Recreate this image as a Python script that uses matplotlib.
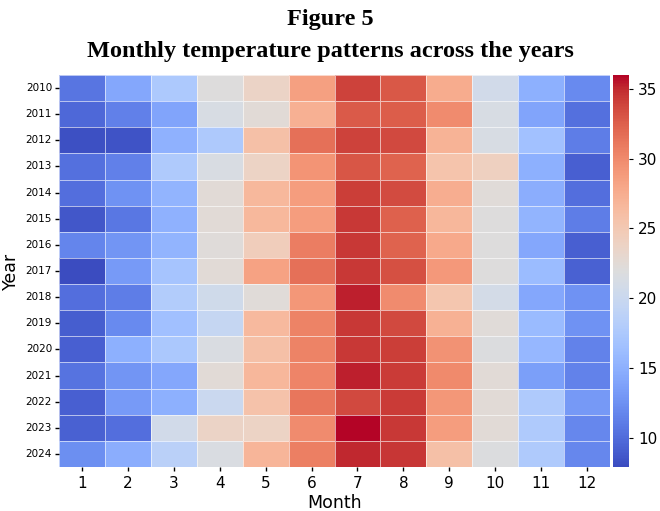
import numpy as np
import matplotlib
matplotlib.use("Agg")
import matplotlib.pyplot as plt
import seaborn as sns

years = list(range(2010, 2025))
months = list(range(1, 13))

t2010 = [10.6, 14.2, 17.5, 22.0, 23.6, 28.5, 34.0, 32.9, 27.6, 20.7, 15.0, 12.0]
t2011 = [9.7, 11.4, 14.0, 21.4, 22.4, 27.3, 32.8, 32.6, 29.9, 21.4, 14.0, 10.3]
t2012 = [8.2, 8.4, 15.1, 17.6, 25.9, 31.6, 34.0, 33.6, 27.0, 21.4, 16.6, 11.1]
t2013 = [10.3, 11.4, 17.7, 21.5, 23.8, 29.4, 33.0, 32.3, 25.5, 24.1, 15.0, 9.2]
t2014 = [10.1, 12.6, 15.3, 22.4, 26.6, 28.7, 34.2, 33.5, 27.5, 22.3, 14.8, 10.1]
t2015 = [8.6, 10.7, 15.1, 22.4, 26.6, 28.7, 34.4, 32.4, 26.7, 22.0, 15.3, 11.1]
t2016 = [11.7, 12.8, 15.3, 22.2, 24.4, 30.8, 34.4, 32.3, 27.8, 22.0, 14.2, 9.2]
t2017 = [7.9, 13.2, 17.0, 22.4, 28.4, 31.6, 34.4, 33.3, 29.0, 22.0, 16.1, 9.3]
t2018 = [10.1, 11.1, 17.9, 20.6, 22.3, 29.1, 35.3, 29.9, 25.3, 20.9, 14.2, 12.6]
t2019 = [9.1, 12.0, 16.5, 19.6, 26.5, 30.5, 34.4, 33.6, 27.2, 22.3, 16.0, 12.6]
t2020 = [9.2, 15.0, 17.4, 21.6, 25.9, 30.5, 34.4, 34.2, 29.5, 21.8, 15.6, 11.5]
t2021 = [10.5, 12.8, 14.2, 22.4, 26.7, 30.4, 35.3, 34.3, 30.0, 22.4, 13.5, 11.5]
t2022 = [9.2, 13.2, 15.0, 20.0, 25.6, 31.2, 33.6, 34.3, 29.1, 22.4, 17.7, 13.1]
t2023 = [9.3, 10.1, 20.7, 23.7, 23.8, 29.9, 36.0, 34.4, 28.7, 22.4, 17.7, 11.8]
t2024 = [12.4, 14.8, 18.6, 21.6, 26.8, 30.7, 35.1, 34.5, 25.9, 21.8, 17.7, 11.8]

data = np.array([t2010, t2011, t2012, t2013, t2014, t2015, t2016, t2017,
                 t2018, t2019, t2020, t2021, t2022, t2023, t2024])

fig = plt.figure(figsize=(6.6, 5.11), dpi=100)
W, H = 660, 511
ax = fig.add_axes([59 / W, (H - 467) / H, (610 - 59) / W, (467 - 75) / H])
cax = fig.add_axes([613 / W, (H - 467) / H, 16 / W, (467 - 75) / H])

sns.heatmap(data, ax=ax, cbar_ax=cax, cmap="coolwarm",
            linewidths=0.5, linecolor=(1, 1, 1, 0.6),
            xticklabels=months, yticklabels=years)
ax.set_yticklabels(years, rotation=0, fontsize=7.5)
ax.set_xticklabels(months, rotation=0, fontsize=11)
ax.tick_params(axis='y', length=3, width=1, pad=2)
ax.tick_params(axis='x', length=3, width=1)
ax.set_xlabel("Month", fontsize=12.5, labelpad=2)
ax.set_ylabel("Year", fontsize=12.5, labelpad=4)

cax.tick_params(labelsize=11, length=3)
cax.set_yticks([10, 15, 20, 25, 30, 35])

fig.text(0.5, 1 - 20 / H, "Figure 5", ha="center", va="center",
         fontsize=17.5, fontweight="bold", family="Liberation Serif")
fig.text(0.5, 1 - 51 / H, "Monthly temperature patterns across the years",
         ha="center", va="center", fontsize=17.5, fontweight="bold",
         family="Liberation Serif")

fig.savefig("out.png", dpi=100)
